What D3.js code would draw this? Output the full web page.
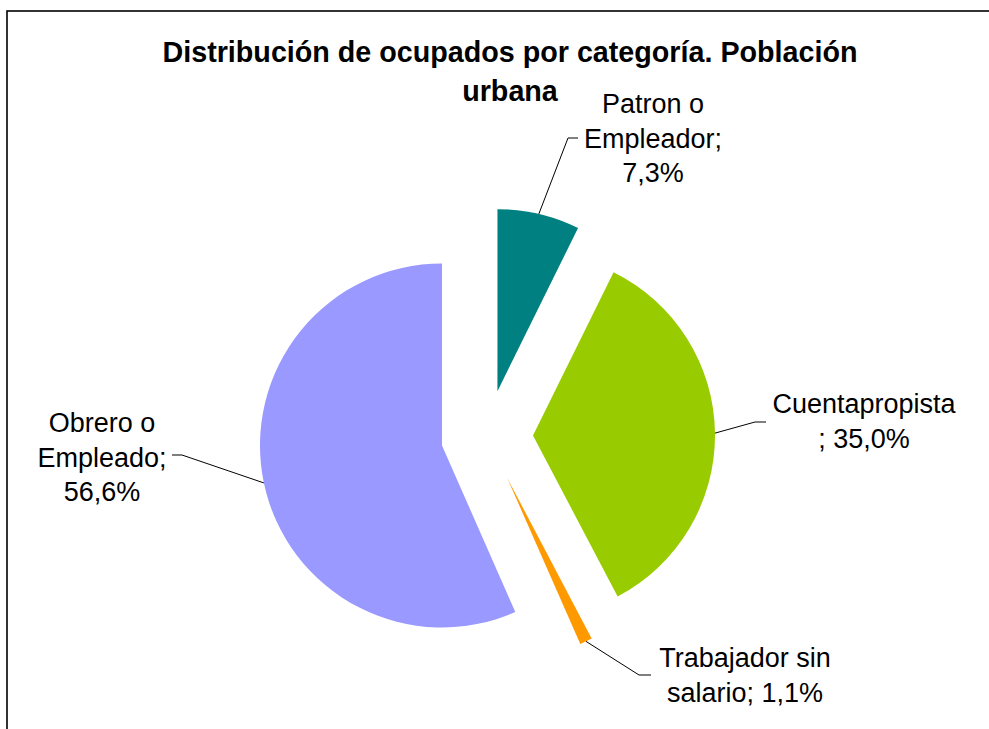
<!doctype html>
<html>
<head>
<meta charset="utf-8">
<style>
  body { margin: 0; background: #fff; }
  svg { display: block; }
  text { font-family: "Liberation Sans", Arial, sans-serif; fill: #000; }
</style>
</head>
<body>
<script src="https://d3js.org/d3.v7.min.js"></script>
<script>

  // data
  var categories = ["Patron o Empleador", "Cuentapropista", "Trabajador sin salario", "Obrero o Empleado"];
  var shares = [7.3, 35.0, 1.1, 56.6];
  var labelLines = [
    ["Patron o", "Empleador;", "7,3%"],
    ["Cuentapropista", "; 35,0%"],
    ["Trabajador sin", "salario; 1,1%"],
    ["Obrero o", "Empleado;", "56,6%"]
  ];
  var titleLines = ["Distribución de ocupados por categoría. Población", "urbana"];

  // styles / layout
  var colors = ["#008080", "#99cc00", "#ff9900", "#9999ff"];
  var width = 989, height = 729;
  var cx = 487, cy = 436, radius = 182, explode = 46;
  // label placement: text centre x, first baseline, elbow of leader, stub end
  var labelPos = [
    { x: 653, y: 113, elbow: [568, 138], end: [578, 138] },
    { x: 864, y: 413, elbow: [755, 422], end: [766, 422] },
    { x: 745, y: 667, elbow: [639, 675], end: [651, 675] },
    { x: 102, y: 432, elbow: [182, 455], end: [172, 455] }
  ];

  var svg = d3.select("body").append("svg")
    .attr("width", width).attr("height", height);

  // frame
  svg.append("rect")
    .attr("x", 7).attr("y", 11)
    .attr("width", width).attr("height", height)
    .attr("fill", "none").attr("stroke", "#000").attr("stroke-width", 1.6);

  // title
  svg.append("text")
    .attr("text-anchor", "middle")
    .style("font-size", "28.7px").style("font-weight", "bold")
    .selectAll("tspan").data(titleLines).enter()
    .append("tspan")
    .attr("x", 510)
    .attr("y", function(d, i){ return 62 + i * 39; })
    .text(function(d){ return d; });

  var pie = d3.pie().sort(null).value(function(d){ return d; });
  var arcs = pie(shares);
  var arc = d3.arc().innerRadius(0).outerRadius(radius);

  function mid(d){ return (d.startAngle + d.endAngle) / 2; }
  function offset(d){
    var a = mid(d);
    return [cx + Math.sin(a) * explode, cy - Math.cos(a) * explode];
  }

  var g = svg.append("g");
  g.selectAll("path.slice").data(arcs).enter()
    .append("path")
    .attr("class", "slice")
    .attr("transform", function(d){ var o = offset(d); return "translate(" + o[0] + "," + o[1] + ")"; })
    .attr("d", arc)
    .attr("fill", function(d, i){ return colors[i]; });

  // leader lines
  g.selectAll("polyline.leader").data(arcs).enter()
    .append("polyline")
    .attr("class", "leader")
    .attr("points", function(d, i){
      var o = offset(d), a = mid(d);
      var p0 = [o[0] + Math.sin(a) * radius, o[1] - Math.cos(a) * radius];
      return [p0, labelPos[i].elbow, labelPos[i].end].map(function(p){ return p.join(","); }).join(" ");
    })
    .attr("fill", "none").attr("stroke", "#000").attr("stroke-width", 1);

  // labels
  var labels = svg.selectAll("text.lbl").data(arcs).enter()
    .append("text")
    .attr("class", "lbl")
    .attr("text-anchor", "middle")
    .style("font-size", "27px");
  labels.each(function(d, i){
    d3.select(this).selectAll("tspan").data(labelLines[i]).enter()
      .append("tspan")
      .attr("x", labelPos[i].x)
      .attr("y", function(t, j){ return labelPos[i].y + j * 34.5; })
      .text(function(t){ return t; });
  });

</script>
</body>
</html>
